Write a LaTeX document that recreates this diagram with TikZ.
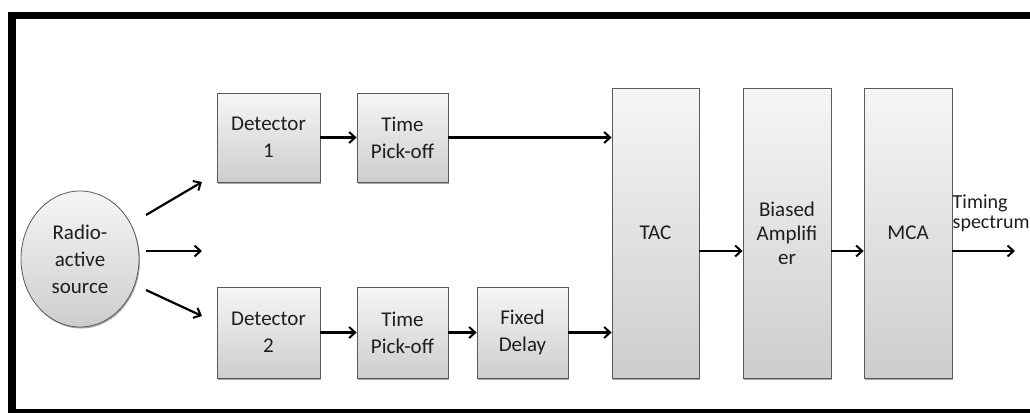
\documentclass[tikz,border=0pt]{standalone}
\usepackage{fontspec}
\setmainfont{Carlito}
\usetikzlibrary{arrows.meta,shapes.geometric,shadows}
\definecolor{boxedge}{HTML}{5A5A5A}
\definecolor{boxtop}{HTML}{F6F6F6}
\definecolor{boxbot}{HTML}{CDCDCD}
\definecolor{ink}{HTML}{1E1E1E}
\tikzset{
  block/.style={draw=boxedge, line width=0.8pt, top color=boxtop, bottom color=boxbot,
    align=center, inner sep=0pt, font=\fontsize{21}{27}\selectfont, text=ink,
    drop shadow={shadow xshift=1pt, shadow yshift=-1.5pt, opacity=.35, fill=black}},
  tallblock/.style={block, minimum width=88pt, minimum height=290pt},
  source/.style={block, ellipse, minimum width=118pt, minimum height=136pt},
  flow/.style={line width=2.2pt, -{Straight Barb[length=6pt,width=11pt,line width=2pt]}},
  frameline/.style={line width=7.5pt, draw=black}
}
\begin{document}
\begin{tikzpicture}[x=1pt,y=-1pt]
  \useasboundingbox (0,0) rectangle (1030,412);
  \clip (0,0) rectangle (1030,412);
  \fill[white] (0,0) rectangle (1030,412);
  % outer frame, open on the right
  \draw[frameline] (12,15.5) rectangle (1048,413);

  % blocks
  \node[source] (src) at (80,259) {Radio-\\active\\source};
  \node[block, minimum width=103pt, minimum height=89pt] (det1) at (268.5,137.5) {Detector\\1};
  \node[block, minimum width=103pt, minimum height=91pt] (det2) at (268.5,332.5) {Detector\\2};
  \node[block, minimum width=91pt, minimum height=89pt] (tpo1) at (402.5,137.5) {Time\\Pick-off};
  \node[block, minimum width=91pt, minimum height=91pt] (tpo2) at (402.5,332.5) {Time\\Pick-off};
  \node[block, minimum width=91pt, minimum height=91pt] (delay) at (522.5,332.5) {Fixed\\Delay};
  \node[tallblock, minimum width=87pt] (tac) at (655.5,233) {TAC};
  \node[tallblock, font=\fontsize{21}{24}\selectfont] (amp) at (787,233) {Biased\\Amplifi\\er};
  \node[tallblock] (mca) at (908,233) {MCA};
  \node[anchor=north west, align=left, inner sep=0pt, text=ink,
        font=\fontsize{20}{20}\selectfont] (lbl) at (952.5,195) {Timing\\spectrum};

  % emission arrows from the source
  \coordinate (e1s) at (146,215); \coordinate (e1e) at (202,182);
  \coordinate (e2s) at (146,251); \coordinate (e2e) at (202,251);
  \coordinate (e3s) at (146,290); \coordinate (e3e) at (202,316);
  \draw[flow] (e1s) -- (e1e);
  \draw[flow] (e2s) -- (e2e);
  \draw[flow] (e3s) -- (e3e);

  % signal chain
  \coordinate (out) at (1015,251);
  \draw[flow] (det1) -- (tpo1);
  \draw[flow] (tpo1.east) -- (tpo1.east -| tac.west);
  \draw[flow] (det2) -- (tpo2);
  \draw[flow] (tpo2) -- (delay);
  \draw[flow] (delay.east) -- (delay.east -| tac.west);
  \draw[flow] (tac.east |- out) -- (amp.west |- out);
  \draw[flow] (amp.east |- out) -- (mca.west |- out);
  \draw[flow] (mca.east |- out) -- (out);
\end{tikzpicture}
\end{document}
